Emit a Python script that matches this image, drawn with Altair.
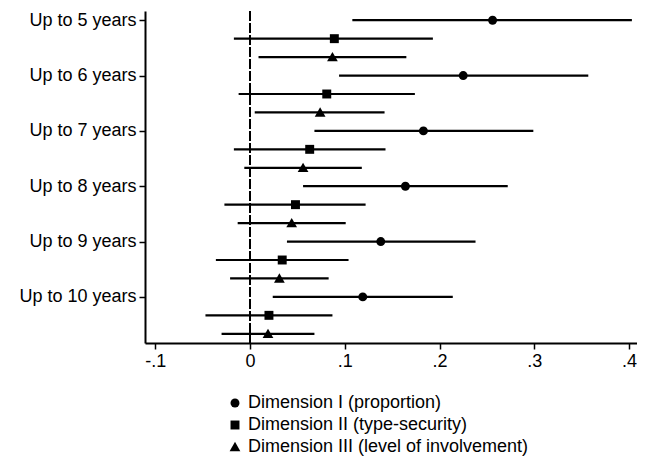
import json
import altair as alt
import pandas as pd

groups = ["Up to 5 years", "Up to 6 years", "Up to 7 years",
          "Up to 8 years", "Up to 9 years", "Up to 10 years"]
series = ["Dimension I (proportion)", "Dimension II (type-security)",
          "Dimension III (level of involvement)"]

est_I = [0.256, 0.225, 0.183, 0.164, 0.138, 0.119]
lo_I = [0.108, 0.094, 0.068, 0.056, 0.039, 0.024]
hi_I = [0.403, 0.357, 0.299, 0.272, 0.238, 0.214]

est_II = [0.089, 0.081, 0.063, 0.048, 0.034, 0.020]
lo_II = [-0.017, -0.012, -0.017, -0.027, -0.036, -0.047]
hi_II = [0.193, 0.174, 0.143, 0.122, 0.104, 0.087]

est_III = [0.087, 0.074, 0.056, 0.044, 0.031, 0.019]
lo_III = [0.009, 0.005, -0.006, -0.013, -0.021, -0.030]
hi_III = [0.165, 0.142, 0.118, 0.101, 0.083, 0.068]

x_ticks = [-0.1, 0.0, 0.1, 0.2, 0.3, 0.4]
x_tick_labels = ["-.1", "0", ".1", ".2", ".3", ".4"]

ests = [est_I, est_II, est_III]
los = [lo_I, lo_II, lo_III]
his = [hi_I, hi_II, hi_III]

rows = []
for gi, g in enumerate(groups):
    for si, s in enumerate(series):
        rows.append({"group": g, "series": s, "row": gi * 3 + si,
                     "est": ests[si][gi], "lo": los[si][gi], "hi": his[si][gi]})
df = pd.DataFrame(rows)

FONT = "Liberation Sans"
FS = 18

y_label_expr = json.dumps(groups) + "[round(datum.value / 3)]"
x_label_expr = json.dumps(x_tick_labels) + "[round((datum.value + 0.1) * 10)]"

x_scale = alt.Scale(domain=[-0.1108, 0.4084], nice=False, zero=False)
y_scale = alt.Scale(domain=[-0.5, 17.5], reverse=True, nice=False, zero=False)

x_axis = alt.Axis(values=x_ticks, labelExpr=x_label_expr, title=None, grid=False,
                  domainColor="black", domainWidth=2, tickColor="black", tickWidth=1.5,
                  tickSize=6, labelFont=FONT, labelFontSize=FS, labelColor="black",
                  labelPadding=3)
y_axis = alt.Axis(values=[0, 3, 6, 9, 12, 15], labelExpr=y_label_expr, title=None,
                  grid=False, domainColor="black", domainWidth=2, tickColor="black",
                  tickWidth=1.5, tickSize=6, labelFont=FONT, labelFontSize=FS,
                  labelColor="black", labelPadding=3)

TRI = "M0,-1.15L1.2,0.95L-1.2,0.95Z"

base = alt.Chart(df)

zero = base.mark_rule(color="black", strokeWidth=1.3, strokeDash=[10, 2]).encode(
    x=alt.datum(0, scale=x_scale, axis=x_axis)
)

bars = base.mark_rule(color="black", strokeWidth=2.2).encode(
    x=alt.X("lo:Q", scale=x_scale, axis=x_axis),
    x2="hi:Q",
    y=alt.Y("row:Q", scale=y_scale, axis=y_axis),
)

points = base.mark_point(filled=True, opacity=1, size=80, color="black").encode(
    x=alt.X("est:Q", scale=x_scale, axis=x_axis),
    y=alt.Y("row:Q", scale=y_scale, axis=y_axis),
    shape=alt.Shape("series:N",
                    scale=alt.Scale(domain=series, range=["circle", "square", TRI]),
                    legend=alt.Legend(title=None, orient="none", legendX=81, legendY=383,
                                      labelFont=FONT, labelFontSize=FS, labelColor="black",
                                      labelLimit=600,
                                      symbolFillColor="black", symbolStrokeColor="black",
                                      symbolStrokeWidth=0, symbolSize=80, rowPadding=4,
                                      labelOffset=4)),
)

chart = alt.layer(zero, bars, points).properties(
    width=492, height=332,
    autosize=alt.AutoSizeParams(type="none"),
    padding={"left": 137, "top": 3, "right": 0, "bottom": 114},
).configure_view(stroke=None)

chart.save("out.html", embed_options={"renderer": "svg", "actions": False})
